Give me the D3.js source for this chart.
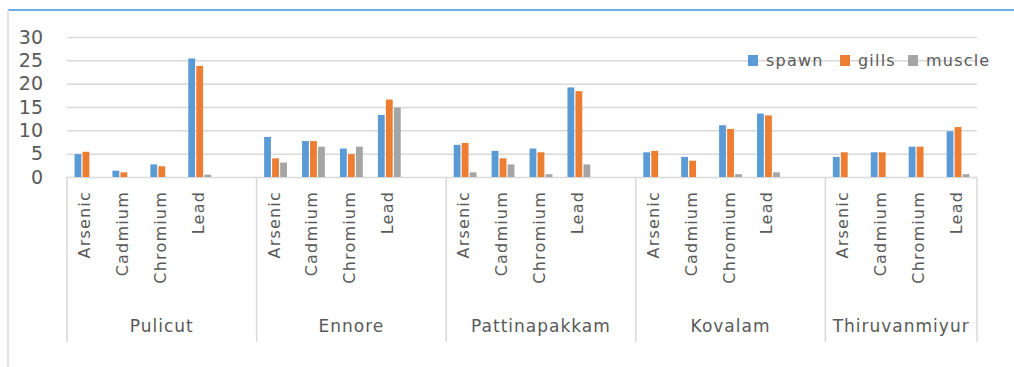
<!DOCTYPE html>
<html>
<head>
<meta charset="utf-8">
<title>Heavy metals by site</title>
<script src="https://d3js.org/d3.v7.min.js"></script>
<style>
body {
	margin: 0;
	background-color: white;
	font-family: "DejaVu Sans", sans-serif;
}
svg text {
	fill: #595959;
}
.grid line {
	stroke: #d9d9d9;
	stroke-width: 1.5;
}
</style>
</head>
<body>
<div id="chart"></div>
<script>
"use strict";
// values
const sites = ["Pulicut", "Ennore", "Pattinapakkam", "Kovalam", "Thiruvanmiyur"];
const metals = ["Arsenic", "Cadmium", "Chromium", "Lead"];
const seriesNames = ["spawn", "gills", "muscle"];
const seriesColors = ["#5b9bd5", "#ed7d31", "#a5a5a5"];
const yTicks = [0, 5, 10, 15, 20, 25, 30];

// one row per site, metals in order
const spawn = [
	[4.9, 1.35, 2.7, 25.4],
	[8.6, 7.7, 6.1, 13.3],
	[6.9, 5.6, 6.1, 19.2],
	[5.3, 4.3, 11.1, 13.6],
	[4.3, 5.3, 6.5, 9.8]
];
const gills = [
	[5.4, 1.0, 2.3, 23.8],
	[4.0, 7.7, 4.9, 16.6],
	[7.3, 4.0, 5.3, 18.4],
	[5.6, 3.5, 10.3, 13.2],
	[5.3, 5.3, 6.5, 10.7]
];
const muscle = [
	[0, 0, 0, 0.5],
	[3.1, 6.5, 6.5, 14.9],
	[1.0, 2.7, 0.6, 2.7],
	[0, 0, 0.6, 1.0],
	[0, 0, 0, 0.6]
];
const seriesData = [spawn, gills, muscle];

function main()
{
	const width = 1014, height = 367;
	const margin = {left: 67, right: 37, top: 37, bottom: 190};
	const plotW = width - margin.left - margin.right;
	const plotH = height - margin.top - margin.bottom;

	const svg = d3.select("#chart").append("svg")
		.attr("width", width)
		.attr("height", height);

	// frame: blue top line, grey left edge
	svg.append("line")
		.attr("x1", 8).attr("x2", width).attr("y1", 10).attr("y2", 10)
		.attr("stroke", "#6aaee6").attr("stroke-width", 2);
	svg.append("line")
		.attr("x1", 8).attr("x2", 8).attr("y1", 10).attr("y2", height)
		.attr("stroke", "#d9d9d9").attr("stroke-width", 1.5);

	const g = svg.append("g")
		.attr("transform", "translate(" + margin.left + "," + margin.top + ")");

	// each site has 4 metals, followed by one empty slot (except the last site)
	const slots = [];
	sites.forEach((s, i) => {
		metals.forEach(m => slots.push(s + "|" + m));
		if (i < sites.length - 1)
			slots.push(s + "|");
	});

	const y = d3.scaleLinear([0, 30], [plotH, 0]);
	const xSlot = d3.scaleBand(slots, [0, plotW]);
	const xSeries = d3.scaleBand(seriesNames, [0, xSlot.bandwidth()])
		.paddingInner(0.15)
		.paddingOuter(0.94);

	// y grid and labels
	g.append("g")
		.attr("class", "grid")
		.call(d3.axisLeft(y).tickValues(yTicks).tickSize(-plotW).tickPadding(24))
		.call(a => a.select(".domain").remove())
		.call(a => a.selectAll("text")
			.style("font-family", "DejaVu Sans")
			.style("font-size", "19px")
			.attr("fill", "#595959"));

	// bars
	seriesData.forEach((rows, si) => {
		const flat = [];
		rows.forEach((vals, i) => vals.forEach((v, j) => {
			if (v > 0)
				flat.push({slot: sites[i] + "|" + metals[j], v: v});
		}));
		g.append("g")
			.selectAll("rect")
			.data(flat)
			.join("rect")
			.attr("x", d => xSlot(d.slot) + xSeries(seriesNames[si]))
			.attr("width", xSeries.bandwidth())
			.attr("y", d => y(d.v))
			.attr("height", d => y(0) - y(d.v))
			.attr("fill", seriesColors[si]);
	});

	// site extents in slot units
	const siteStart = s => xSlot(s + "|" + metals[0]);
	const siteEnd = (s, i) => i < sites.length - 1 ? xSlot(s + "|") + xSlot.bandwidth() : plotW;

	// site dividers below axis
	const divs = sites.map(siteStart).concat([plotW]);
	g.append("g")
		.selectAll("line")
		.data(divs)
		.join("line")
		.attr("x1", d => d).attr("x2", d => d)
		.attr("y1", plotH).attr("y2", plotH + 165)
		.attr("stroke", "#d9d9d9").attr("stroke-width", 1.5);

	// metal labels, rotated
	const metalSlots = slots.filter(s => !s.endsWith("|"));
	g.append("g")
		.selectAll("text")
		.data(metalSlots)
		.join("text")
		.attr("transform", d => "translate(" + (xSlot(d) + xSlot.bandwidth() / 2 + 4) + "," + (plotH + 14) + ") rotate(-90)")
		.attr("text-anchor", "end")
		.style("font-size", "16px")
		.style("letter-spacing", "1.2px")
		.text(d => d.split("|")[1]);

	// site labels
	g.append("g")
		.selectAll("text")
		.data(sites)
		.join("text")
		.attr("x", (d, i) => (siteStart(d) + siteEnd(d, i)) / 2)
		.attr("y", plotH + 155)
		.attr("text-anchor", "middle")
		.style("font-size", "17px")
		.style("letter-spacing", "1px")
		.text(d => d);

	// legend
	const legX = [748, 840, 908];
	const leg = svg.append("g");
	seriesNames.forEach((name, i) => {
		leg.append("rect")
			.attr("x", legX[i]).attr("y", 55)
			.attr("width", 10).attr("height", 11)
			.attr("fill", seriesColors[i]);
		leg.append("text")
			.attr("x", legX[i] + 18).attr("y", 66)
			.style("font-size", "16px")
			.style("letter-spacing", "1.2px")
			.text(name);
	});
}
main();
</script>
</body>
</html>
